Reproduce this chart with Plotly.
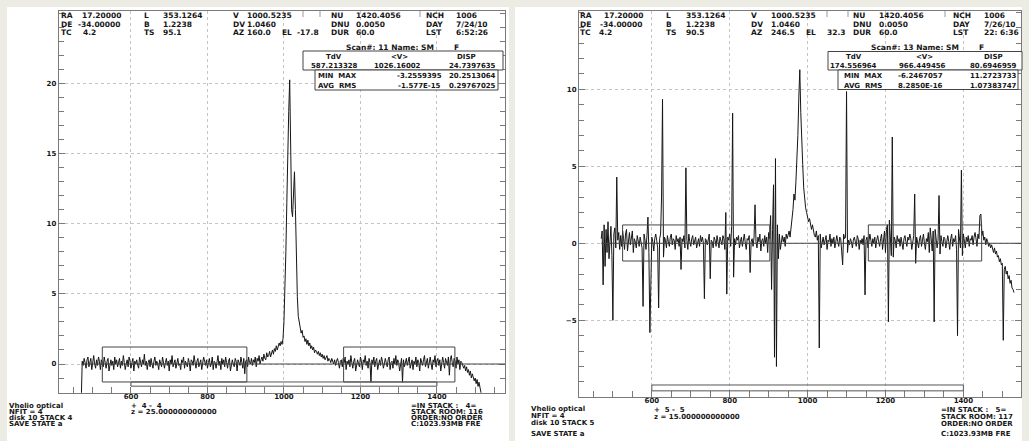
import plotly.graph_objects as go

W, H = 1029, 441

# ---------------- spectra: antenna temperature per channel ----------------
# Channels start at CH0 km/s and are CHW km/s wide; one row = 20 channels (50 km/s).
CH0 = 470.0
CHW = 2.5

TA_SCAN11 = [
    -2.6, 0.2, -0.1, 0.4, 0.1, -0.3, 0.3, 0.5, -0.2, 0.1, 0.4, -0.4, 0.2, 0.6, 0.0, -0.3, 0.3, -0.1, 0.5, 0.2,
    -0.4, 0.3, 0.0, -0.2, 0.5, 0.1, -0.3, 0.2, 0.4, -0.5, 0.1, 0.3, -0.1, 0.2, -0.4, 0.5, 0.0, 0.3, -0.2, 0.1,
    0.4, -0.3, 0.2, -0.1, 0.6, 0.1, -0.4, 0.0, 0.3, -0.2, 0.5, 0.2, -0.3, 0.1, 0.4, -0.5, 0.2, 0.0, 0.3, -0.1,
    -0.3, 0.5, 0.1, -0.2, 0.3, 0.0, 0.7, -0.1, 0.2, -0.4, 0.1, 0.3, -0.2, 0.4, 0.0, -0.3, 0.2, 0.5, -0.1, 0.2,
    0.0, -0.4, 0.3, 0.1, -0.2, 0.5, 0.2, -0.3, 0.1, 0.4, -0.1, 0.2, -0.5, 0.3, 0.0, 0.6, -0.2, 0.1, 0.3, -0.3,
    0.2, 0.4, -0.1, 0.0, -0.4, 0.3, 0.1, 0.5, -0.3, 0.2, 0.0, -0.2, 0.4, 0.1, -0.5, 0.3, 0.2, -0.1, 0.6, 0.0,
    -0.3, 0.2, 0.4, -0.2, 0.1, 0.3, -0.4, 0.0, 0.5, 0.2, -0.1, 0.3, -0.3, 0.1, 0.4, -0.2, 0.0, 0.5, -0.4, 0.2,
    0.1, -0.3, 0.3, 0.6, -0.1, 0.2, -0.4, 0.4, 0.0, 0.3, -0.2, 0.5, 0.1, -0.3, 0.2, 0.4, -0.5, 0.1, 0.3, 0.0,
    -0.2, 0.4, 0.2, -0.5, 0.3, 0.1, -0.1, 0.5, 0.0, -0.3, 0.4, -0.7, 0.2, 0.3, -0.2, 0.5, 0.1, 0.0, 0.4, -0.1,
    0.3, 0.1, 0.5, -0.2, 0.4, 0.2, 0.6, 0.0, 0.3, 0.5, 0.2, 0.7, 0.4, 0.3, 0.8, 0.5, 0.6, 0.9, 0.5, 0.8,
    1.0, 0.7, 1.1, 0.9, 1.3, 1.0, 1.2, 1.5, 1.3, 1.6, 1.4, 1.8, 3.0, 5.0, 8.0, 11.5, 15.5, 18.0, 20.25, 14.0,
    11.0, 10.5, 12.0, 13.7, 11.0, 7.0, 4.8, 3.4, 2.9, 2.5, 2.2, 2.4, 1.9, 2.0, 1.6, 1.8, 1.4, 1.7, 1.3, 1.5,
    1.1, 1.3, 1.0, 1.2, 0.8, 1.0, 0.9, 0.7, 0.9, 0.6, 0.8, 0.5, 0.7, 0.4, 0.6, 0.3, 0.5, 0.6, 0.2, 0.4,
    0.3, 0.1, 0.4, 0.2, 0.0, 0.3, -0.1, 0.2, 0.4, 0.1, -0.3, 0.2, 0.3, -0.2, 0.4, 0.1, 0.5, -0.4, 0.2, 0.0,
    0.3, -0.2, 0.6, 0.1, -0.3, 0.2, 0.4, -0.5, 0.1, 0.3, 0.0, -0.2, 0.5, 0.2, -0.4, 0.3, 0.1, 0.6, -0.1, 0.2,
    -0.3, 0.4, 0.1, -1.3, 0.3, 0.0, 0.5, -0.2, 0.2, 0.4, -0.4, 0.1, 0.3, -0.1, 0.5, 0.2, -0.3, 0.0, 0.4, 0.1,
    -0.2, 0.3, 0.5, -0.4, 0.1, 0.2, -0.3, 0.4, 0.0, 0.6, -0.1, 0.3, 0.1, -0.5, 0.2, 0.4, -1.3, 0.3, -0.2, 0.2,
    0.4, -0.1, 0.2, 0.5, -0.3, 0.1, 0.3, -0.4, 0.2, 0.0, 0.5, -0.2, 0.3, 0.1, -0.5, 0.4, 0.2, -0.1, 0.3, 0.6,
    -0.2, 0.1, 0.4, -0.3, 0.2, 0.5, 0.0, -0.4, 0.3, 0.1, 0.6, -0.2, 0.2, 0.4, -0.1, 0.3, -0.5, 0.2, 0.5, 0.1,
    -0.3, 0.4, 0.2, -0.1, 0.5, -0.8, 0.3, 0.6, 0.1, -0.2, 0.4, 0.2, -0.3, 0.5, 0.0, 0.3, -0.4, 0.2, 0.1, -0.2,
    -0.3, -0.1, -0.5, -0.2, -0.6, -0.4, -0.8, -0.5, -1.0, -0.7, -0.9, -1.2, -1.0, -1.4, -1.1, -1.6, -1.3, -1.8, -2.0, -2.3,
    -2.6,
]

TA_SCAN13 = [
    0.3, 0.8, -2.7, 1.2, -1.5, 0.9, -0.6, 1.4, -1.0, 0.7, 1.1, -0.8, -5.0, 0.6, 1.0, -0.3, 4.3, 0.2, 0.7, -0.4,
    0.5, -0.2, 0.8, 0.3, -0.4, 0.6, 0.9, -0.5, 0.2, 0.7, -0.1, 0.4, 0.8, -0.6, 0.3, 0.1, -0.3, 0.5, 0.2, -0.2,
    0.4, 0.1, -0.3, -4.1, 0.6, 0.2, -0.4, 0.5, 1.7, -0.6, -5.8, -2.7, 0.4, 0.1, -0.5, 0.3, 0.6, 0.2, -0.3, -4.2,
    0.3, 0.6, 3.0, 9.35, -0.9, 0.4, 0.2, -0.3, 0.5, 0.1, -0.2, 0.4, 0.6, -0.1, 0.3, 0.2, -0.4, 0.5, 0.1, 0.3,
    -0.2, 0.4, -1.7, 0.3, 0.1, 0.5, -0.3, 4.9, 0.2, -0.4, 0.6, 0.1, -0.2, 0.3, 0.5, -0.1, 0.2, 0.4, -0.3, 0.1,
    0.3, -0.2, 0.5, 0.1, 0.4, 0.0, -3.6, 0.3, 0.2, -0.1, 0.4, 0.6, -2.3, 0.2, 0.1, -0.3, 0.4, 0.2, -0.2, 0.5,
    0.1, -0.3, 0.4, 0.2, -0.1, 0.5, 0.3, -0.4, 2.0, -3.3, 0.4, 0.2, 0.6, -0.2, 1.1, 8.45, -2.2, 0.3, -0.1, 0.4,
    0.2, 0.5, -0.3, 0.1, 0.4, -0.2, 0.3, 0.6, 0.0, -0.4, 0.3, 0.2, 0.5, -1.9, 0.1, 0.3, -0.2, 0.4, 2.5, 0.1,
    -0.3, 0.4, 0.1, 0.6, -0.5, 0.2, 0.3, -0.2, 0.5, 0.0, 0.4, -0.6, 0.7, 0.3, 1.8, -3.0, 0.9, 3.8, -7.4, 5.5,
    -8.0, 1.2, -1.0, 0.6, -0.4, 0.3, 0.5, 0.1, 0.4, -0.2, 0.6, 0.3, 0.5, 0.8, 0.4, 1.0, 1.5, 2.2, 3.2, 2.8,
    4.0, 5.2, 7.0, 9.5, 11.27, 8.5, 6.0, 5.1, 3.6, 2.8, 2.3, 2.0, 1.7, 1.4, 1.6, 1.1, 0.9, 1.2, 0.7, 0.5,
    0.4, 0.8, 0.2, 0.5, -6.8, 0.6, -0.3, 0.2, 0.4, -0.1, 0.3, 0.5, -0.4, 0.2, 0.1, 0.6, -0.2, 0.3, 0.0, 0.4,
    -0.3, 0.2, 0.5, 0.1, -0.2, 0.4, 0.3, -0.5, -1.4, 0.6, 0.3, 0.4, 9.85, -0.6, 0.2, -0.1, 0.3, 0.1, -0.3, 0.2,
    0.4, 0.1, -0.2, 0.5, 0.3, -0.4, 0.2, 0.0, 0.3, -0.1, 0.5, -3.35, 0.2, 0.4, -0.3, 0.1, 0.6, 0.2, -0.2, 0.3,
    0.0, 0.4, -0.3, 0.2, 0.5, 0.1, -0.2, 0.3, 0.6, -0.4, 0.2, 0.8, -0.6, 0.9, 1.2, -5.1, 1.5, 0.3, -0.8, 6.9,
    -0.9, 0.4, 0.2, -0.3, 0.5, 0.1, 0.3, -0.2, 0.4, 0.0, -0.4, 0.3, 0.5, 0.1, -0.2, 0.4, 0.2, 0.6, 0.3, -0.4,
    0.2, 0.5, 3.2, -1.3, 0.4, 0.1, -0.3, 0.3, 0.5, -0.2, 0.2, 0.6, 0.0, -0.4, 0.3, 0.1, 0.7, -0.6, 1.0, 0.2,
    -0.5, 0.8, -5.1, 0.9, 0.4, -0.3, 0.2, 3.1, -0.7, 0.5, 0.1, -0.2, 0.4, 0.3, -0.3, 0.2, 0.5, 0.1, -0.4, 0.3,
    0.6, -0.2, 0.3, 0.1, 0.5, -0.4, -6.0, 0.9, 0.4, -0.3, 4.75, -0.8, 0.6, 0.2, -0.3, 0.4, 0.1, 0.5, -0.2, 0.3,
    0.2, 0.5, -0.1, 0.4, 0.7, 0.3, -0.2, 0.6, 0.3, 1.8, 1.9, 0.5, 0.8, 0.2, 0.4, -0.1, 0.3, 0.1, -0.2, 0.0,
    -0.3, -0.1, -0.4, -0.6, -0.3, -0.7, -0.5, -0.9, -0.8, -1.2, -1.0, -1.4, -1.3, -6.3, -1.7, -1.5, -2.0, -1.8, -2.3, -2.1,
    -2.6, -2.4, -2.9, -3.0, -3.2,
]

# baseline-fit windows and fit range (km/s)
BASE_WINDOWS = [(525, 903), (1156, 1447)]
FIT_RANGE = (600, 1400)
BOX_T_L = (-1.28, 1.21)
BOX_T_R = (-1.15, 1.19)
BAR_T_L = (-1.58, -1.28)
BAR_T_R = (-9.58, -9.2)

X_RANGE_L = [411, 1578]
Y_RANGE_L = [-2.045, 25.16]
X_RANGE_R = [413, 1548]
Y_RANGE_R = [-9.96, 15.08]
Y_TICKS_L = [0, 5, 10, 15, 20]
Y_TICKS_R = [-5, 0, 5, 10]

# header / footer text of each scan window (page pixels)
HDR_L = [
    ("RA", 60, 16), ("17.20000", 122, 16, "right"),
    ("DE", 60, 24.5), ("-34.00000", 122, 24.5, "right"),
    ("TC", 60, 33), ("4.2", 82, 33),
    ("L", 143, 16), ("353.1264", 162, 16),
    ("B", 143, 24.5), ("1.2238", 162, 24.5),
    ("TS", 143, 33), ("95.1", 162, 33),
    ("V", 232, 16), ("1000.5235", 246, 16),
    ("DV", 232, 24.5), ("1.0460", 246, 24.5),
    ("AZ", 232, 33), ("160.0", 246, 33),
    ("EL", 281, 33), ("-17.8", 296, 33),
    ("NU", 330, 16), ("1420.4056", 355, 16),
    ("DNU", 330, 24.5), ("0.0050", 355, 24.5),
    ("DUR", 330, 33), ("60.0", 355, 33),
    ("NCH", 425, 16), ("1006", 455, 16),
    ("DAY", 425, 24.5), ("7/24/10", 455, 24.5),
    ("LST", 425, 33), ("6:52:26", 455, 33),
    ("Scan#: 11 Name: SM", 345, 47.5), ("F", 453, 47.5),
]
HDR_R = [
    ("RA", 579, 16), ("17.20000", 644, 16, "right"),
    ("DE", 579, 24.5), ("-34.00000", 644, 24.5, "right"),
    ("TC", 579, 33), ("4.2", 598, 33),
    ("L", 665, 16), ("353.1264", 685, 16),
    ("B", 665, 24.5), ("1.2238", 685, 24.5),
    ("TS", 665, 33), ("90.5", 685, 33),
    ("V", 750, 16), ("1000.5235", 770, 16),
    ("DV", 750, 24.5), ("1.0460", 770, 24.5),
    ("AZ", 750, 33), ("246.5", 770, 33),
    ("EL", 805, 33), ("32.3", 826, 33),
    ("NU", 852, 16), ("1420.4056", 878, 16),
    ("DNU", 852, 24.5), ("0.0050", 878, 24.5),
    ("DUR", 852, 33), ("60.0", 878, 33),
    ("NCH", 952, 16), ("1006", 983, 16),
    ("DAY", 952, 24.5), ("7/26/10", 983, 24.5),
    ("LST", 952, 33), ("22: 6:36", 983, 33),
    ("Scan#: 13 Name: SM", 870, 47.5), ("F", 978, 47.5),
]
STATS_L = [
    ("TdV", 334, 57), ("<V>", 399, 57), ("DISP", 466, 57),
    ("587.213328", 334, 66), ("1026.16002", 397, 66), ("24.7397635", 472, 66),
    ("MIN  MAX", 337, 76.5), ("-3.2559395", 419, 76.5), ("20.2513064", 472, 76.5),
    ("AVG  RMS", 337, 86), ("-1.577E-15", 419, 86), ("0.29767025", 472, 86),
]
STATS_R = [
    ("TdV", 854, 57), ("<V>", 924, 57), ("DISP", 993, 57),
    ("174.556964", 853, 66), ("966.449456", 922, 66), ("80.6946959", 993, 66),
    ("MIN  MAX", 863, 76.5), ("-6.2467057", 920, 76.5), ("11.2723733", 993, 76.5),
    ("AVG  RMS", 863, 86), ("8.2850E-16", 920, 86), ("1.07383747", 993, 86),
]
FOOT_L = [
    ("Vhelio optical", 8, 406), ("NFIT = 4", 8, 412), ("disk 10 STACK 4", 8, 418), ("SAVE STATE a", 8, 424),
    ("+  4 -  4", 130, 406), ("z = 25.000000000000", 130, 412),
    ("=IN STACK :   4=", 410, 406), ("STACK ROOM: 116", 410, 412),
    ("ORDER:NO ORDER", 410, 418), ("C:1023.93MB FRE", 410, 424),
]
FOOT_R = [
    ("Vhelio optical", 530, 409), ("NFIT = 4", 530, 416), ("disk 10 STACK 5", 530, 423), ("SAVE STATE a", 530, 434),
    ("+  5 -  5", 653, 410), ("z = 15.000000000000", 653, 417),
    ("=IN STACK :   5=", 940, 410), ("STACK ROOM: 117", 940, 417),
    ("ORDER:NO ORDER", 940, 424), ("C:1023.93MB FRE", 940, 434),
]

# stats boxes and header separators (page pixels)
STAT_BOXES_L = [(303, 51, 503, 70), (315, 70, 498, 90)]
STAT_BOXES_R = [(828, 51.5, 1022, 70), (838, 70, 1018, 89.5)]
SEPS_L = [303, 320, 420]
SEPS_R = [827, 848, 945]

PANELS = [(7, 7, 509, 441), (515, 7, 1022, 441)]

FONT = "DejaVu Sans"
INK = "#161616"
FRAME = "#7a7a7a"

vel_l = [CH0 + i * CHW for i in range(len(TA_SCAN11))]
vel_r = [CH0 + i * CHW for i in range(len(TA_SCAN13))]

fig = go.Figure()
fig.add_trace(go.Scatter(x=vel_l, y=TA_SCAN11, mode="lines", xaxis="x", yaxis="y",
                         line=dict(color=INK, width=1), hoverinfo="skip", showlegend=False))
fig.add_trace(go.Scatter(x=vel_r, y=TA_SCAN13, mode="lines", xaxis="x2", yaxis="y2",
                         line=dict(color=INK, width=1), hoverinfo="skip", showlegend=False))


def px(x):
    return x / W


def py(y):
    return 1 - y / H


def axis_common():
    return dict(
        showline=True, linecolor=FRAME, linewidth=1,
        ticks="inside", tickcolor=FRAME, ticklen=6, tickwidth=1,
        showgrid=True, gridcolor="#c4c4c4", griddash="dot", gridwidth=1,
        zeroline=False, fixedrange=True,
        tickfont=dict(family=FONT, size=7, color=INK, weight="bold"),
    )


fig.update_layout(
    width=W, height=H, margin=dict(l=0, r=0, t=0, b=0),
    paper_bgcolor="#ecece4", plot_bgcolor="white", showlegend=False,
    xaxis=dict(domain=[px(58.7), px(505)], range=X_RANGE_L, anchor="y",
               tick0=0, dtick=200, mirror=True, ticklabelstandoff=-3,
               minor=dict(dtick=50, tick0=0, ticks="inside", ticklen=6, tickcolor=FRAME, showgrid=False),
               **axis_common()),
    yaxis=dict(domain=[py(392.7), py(11)], range=Y_RANGE_L, anchor="x",
               tickmode="array", tickvals=Y_TICKS_L, mirror="ticks",
               minor=dict(dtick=1, tick0=0, ticks="inside", ticklen=5, tickcolor=FRAME, showgrid=False),
               **axis_common()),
    xaxis2=dict(domain=[px(579), px(1021)], range=X_RANGE_R, anchor="y2",
                tick0=0, dtick=200, mirror=True, ticklabelstandoff=-3,
                minor=dict(dtick=50, tick0=0, ticks="inside", ticklen=6, tickcolor=FRAME, showgrid=False),
                **axis_common()),
    yaxis2=dict(domain=[py(396.7), py(11)], range=Y_RANGE_R, anchor="x2",
                tickmode="array", tickvals=Y_TICKS_R, mirror="ticks",
                minor=dict(dtick=1, tick0=0, ticks="inside", ticklen=5, tickcolor=FRAME, showgrid=False),
                **axis_common()),
)

shapes = []
for x0, y0, x1, y1 in PANELS:
    shapes.append(dict(type="rect", xref="paper", yref="paper", layer="below",
                       x0=px(x0), x1=px(x1), y0=py(y1), y1=py(y0),
                       fillcolor="white", line=dict(width=0)))

for xa, ya, vel, box_t, bar_t, xr in (("x", "y", vel_l, BOX_T_L, BAR_T_L, X_RANGE_L),
                                      ("x2", "y2", vel_r, BOX_T_R, BAR_T_R, X_RANGE_R)):
    for a, b in BASE_WINDOWS:
        shapes.append(dict(type="rect", xref=xa, yref=ya, x0=a, x1=b, y0=box_t[0], y1=box_t[1],
                           line=dict(color="#444", width=1)))
    shapes.append(dict(type="rect", xref=xa, yref=ya, x0=FIT_RANGE[0], x1=FIT_RANGE[1],
                       y0=bar_t[0], y1=bar_t[1], line=dict(color="#555", width=1)))
    shapes.append(dict(type="line", xref=xa, yref=ya, x0=vel[0], x1=xr[1], y0=0, y1=0,
                       line=dict(color="#444", width=1)))

for boxes in (STAT_BOXES_L, STAT_BOXES_R):
    for x0, y0, x1, y1 in boxes:
        shapes.append(dict(type="rect", xref="paper", yref="paper", layer="above",
                           x0=px(x0), x1=px(x1), y0=py(y1), y1=py(y0),
                           fillcolor="white", line=dict(color="#444", width=1)))

for seps in (SEPS_L, SEPS_R):
    for x in seps:
        shapes.append(dict(type="line", xref="paper", yref="paper",
                           x0=px(x), x1=px(x), y0=py(11), y1=py(17),
                           line=dict(color="#999", width=1)))

fig.update_layout(shapes=shapes)


def put(items, size, anchor_default="left"):
    for it in items:
        text, x, y = it[0], it[1], it[2]
        anchor = it[3] if len(it) > 3 else anchor_default
        fig.add_annotation(text=text, x=px(x), y=py(y), xref="paper", yref="paper",
                           xanchor=anchor, yanchor="middle", showarrow=False, borderpad=0,
                           font=dict(family=FONT, size=size, color=INK, weight="bold"))


put(HDR_L, 7.5)
put(HDR_R, 7.5)
put(STATS_L, 7, "center")
put(STATS_R, 7, "center")
put(FOOT_L, 7)
put(FOOT_R, 7)

fig.write_html("out.html", config={"displayModeBar": False, "staticPlot": True})
